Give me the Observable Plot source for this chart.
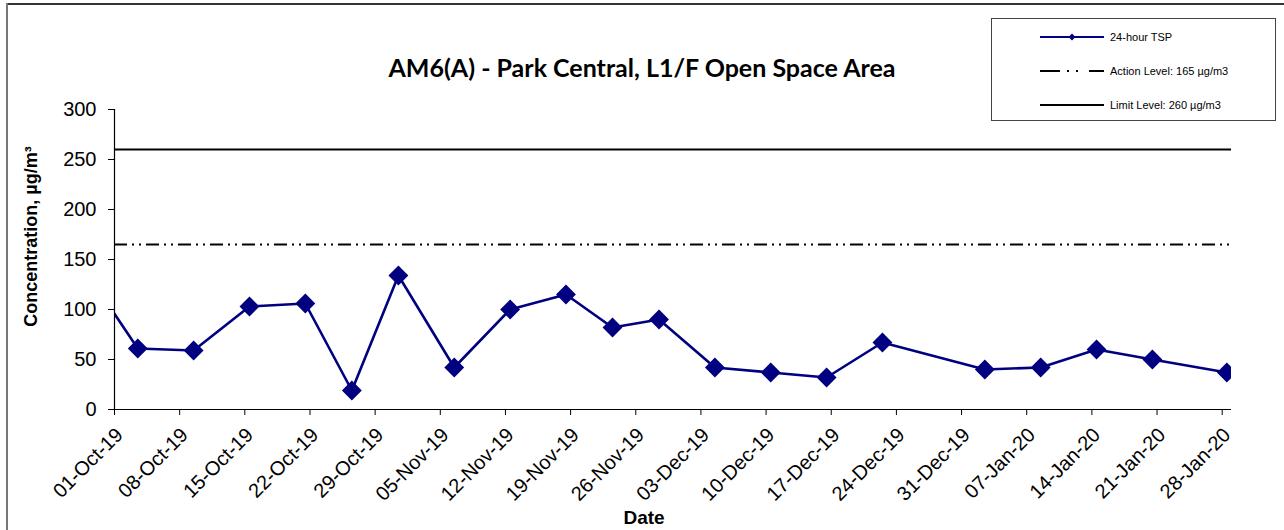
<!DOCTYPE html>
<html>
<head>
<meta charset="utf-8">
<script src="https://cdn.jsdelivr.net/npm/d3@7"></script>
<script src="https://cdn.jsdelivr.net/npm/@observablehq/plot@0.6"></script>
<style>
  html, body { margin: 0; padding: 0; background: #fff; }
  #wrap { position: relative; width: 1284px; height: 530px; overflow: hidden; font-family: "Liberation Sans", Arial, sans-serif; }
  #frameTop { position: absolute; left: 6px; top: 3px; width: 1278px; height: 2px; background: #333; }
  #frameLeft { position: absolute; left: 6px; top: 3px; width: 2px; height: 527px; background: #777; }
  #title { position: absolute; left: 0; width: 1284px; top: 52px; text-align: center; font-family: Lato, "Open Sans", sans-serif; font-weight: bold; font-size: 25px; color: #000; }
  #legend { position: absolute; left: 991px; top: 18px; width: 285px; height: 103px; border: 1px solid #444; box-sizing: border-box; background: #fff; font-size: 11px; }
  .lrow { position: absolute; left: 48px; height: 14px; display: flex; align-items: center; }
  .lrow svg { margin-right: 6px; }
</style>
</head>
<body>
<div id="wrap">
  <div id="chart"></div>
  <div id="frameTop"></div>
  <div id="frameLeft"></div>
  <div id="title">AM6(A) - Park Central, L1/F Open Space Area</div>
  <div id="legend"></div>
</div>
<script>
// ---- data ----
const sampleDates = ["2019-09-27","2019-10-03","2019-10-09","2019-10-15","2019-10-21","2019-10-26","2019-10-31",
  "2019-11-06","2019-11-12","2019-11-18","2019-11-23","2019-11-28","2019-12-04","2019-12-10","2019-12-16",
  "2019-12-22","2020-01-02","2020-01-08","2020-01-14","2020-01-20","2020-01-28"];
const tspValues = [144, 61, 59, 103, 106, 19, 134, 42, 100, 115, 82, 90, 42, 37, 32, 67, 40, 42, 60, 50, 37];
const actionLevel = 165;
const limitLevel = 260;
const xTickLabels = ["01-Oct-19","08-Oct-19","15-Oct-19","22-Oct-19","29-Oct-19","05-Nov-19","12-Nov-19",
  "19-Nov-19","26-Nov-19","03-Dec-19","10-Dec-19","17-Dec-19","24-Dec-19","31-Dec-19","07-Jan-20",
  "14-Jan-20","21-Jan-20","28-Jan-20"];
const yTicks = [0, 50, 100, 150, 200, 250, 300];
const xDomain = ["2019-10-01", "2020-01-29"];
const legendItems = ["24-hour TSP", "Action Level: 165 µg/m3", "Limit Level: 260 µg/m3"];

// ---- build ----
const parseTick = d3.utcParse("%d-%b-%y");
const fmtTick = d3.utcFormat("%d-%b-%y");
// Excel date axis places each daily value in the middle of its day
const data = sampleDates.map((d, i) => ({date: d3.utcHour.offset(new Date(d), 12), value: tspValues[i]}));
const tickDates = xTickLabels.map(parseTick);
const dom = xDomain.map(d => new Date(d));

const navy = "#000080";
const dashDot = "13,5,2,5,2,5";

const chart = Plot.plot({
  width: 1284,
  height: 530,
  marginLeft: 114,
  marginRight: 53,
  marginTop: 109,
  marginBottom: 121,
  style: {fontFamily: "'Liberation Sans', Arial, sans-serif", fontSize: "19px", color: "#000", background: "transparent"},
  x: {type: "utc", domain: dom},
  y: {domain: [0, 300]},
  marks: [
    Plot.ruleY([limitLevel], {stroke: "#000", strokeWidth: 2.2}),
    Plot.ruleY([actionLevel], {stroke: "#000", strokeWidth: 2.2, strokeDasharray: dashDot}),
    Plot.line(data, {x: "date", y: "value", stroke: navy, strokeWidth: 2.6, clip: true}),
    Plot.dot(data, {x: "date", y: "value", symbol: "diamond2", r: 8, fill: navy, stroke: navy, clip: true}),
    Plot.ruleX([dom[0]], {stroke: "#000", strokeWidth: 1.2}),
    Plot.ruleY([0], {stroke: "#000", strokeWidth: 1.2}),
    Plot.axisY({ticks: yTicks, tickSize: 6, tickPadding: 12, fontSize: 20, label: null}),
    Plot.axisX({ticks: tickDates, tickFormat: () => "", tickSize: 6, label: null}),
    Plot.axisX({ticks: tickDates, tickFormat: fmtTick, tickSize: 0, tickPadding: 20, dx: 5, dy: 2, fontSize: 20, tickRotate: -45, label: null}),
    Plot.text(["Concentration, µg/m³"], {frameAnchor: "left", textAnchor: "middle", dx: -83, dy: -23, rotate: -90, fontWeight: "bold", fontSize: 18}),
    Plot.text(["Date"], {frameAnchor: "bottom", dx: -29, dy: 114, fontWeight: "bold", fontSize: 19})
  ]
});
document.getElementById("chart").appendChild(chart);

// legend
const legend = document.getElementById("legend");
const rowTops = [11, 45, 79];
legendItems.forEach((label, i) => {
  const row = document.createElement("div");
  row.className = "lrow";
  row.style.top = rowTops[i] + "px";
  let sample;
  if (i === 0) sample = `<svg width="64" height="8"><line x1="0" y1="4" x2="64" y2="4" stroke="${navy}" stroke-width="2"/><path d="M32,0.5 L35.5,4 L32,7.5 L28.5,4Z" fill="${navy}"/></svg>`;
  else if (i === 1) sample = `<svg width="64" height="8"><line x1="0" y1="4" x2="64" y2="4" stroke="#000" stroke-width="2" stroke-dasharray="20,7,2,7,2,11"/></svg>`;
  else sample = `<svg width="64" height="8"><line x1="0" y1="4" x2="64" y2="4" stroke="#000" stroke-width="2"/></svg>`;
  row.innerHTML = sample + `<span>${label}</span>`;
  legend.appendChild(row);
});
</script>
</body>
</html>
